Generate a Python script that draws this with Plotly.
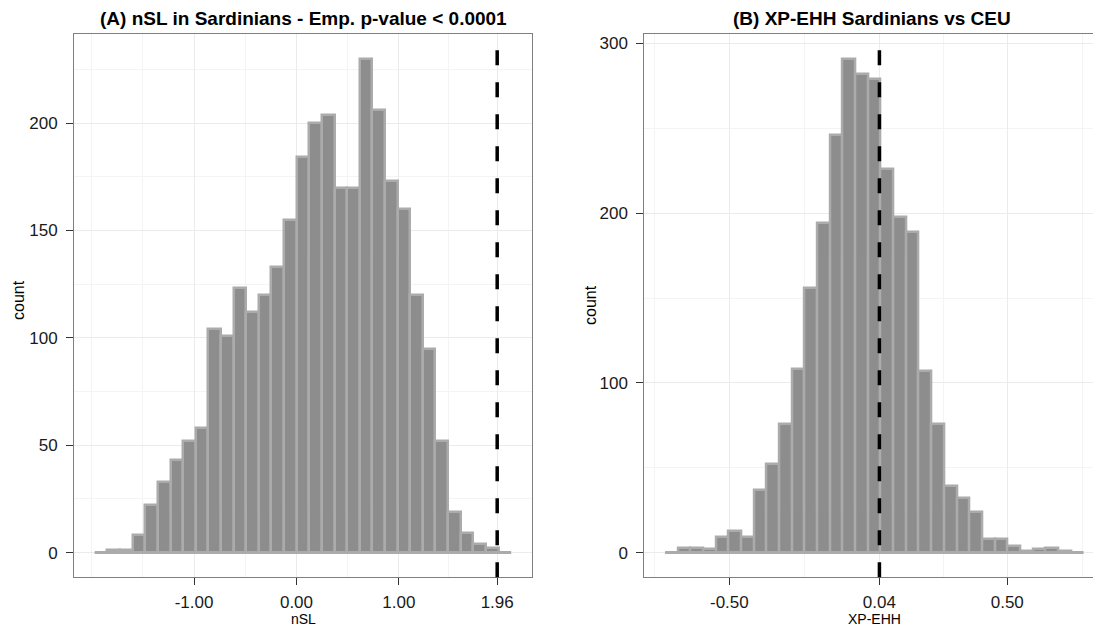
import numpy as np
import plotly.graph_objects as go

# ---- Panel A: nSL in Sardinians ----
nsl_bin_start = -1.969
nsl_bin_width = 0.1232
nsl_counts = [0, 1, 1, 8, 22, 33, 43, 52, 58, 104, 101, 123, 112, 120, 133, 155,
              184, 200, 204, 170, 170, 230, 206, 173, 160, 120, 95, 52, 19, 9, 4, 2, 0]
nsl_threshold = 1.96
nsl_tick_vals = [-1.0, 0.0, 1.0, 1.96]
nsl_tick_text = ["-1.00", "0.00", "1.00", "1.96"]
count_ticks_a = [0, 50, 100, 150, 200]

# ---- Panel B: XP-EHH Sardinians vs CEU ----
xpehh_bin_start = -0.7308
xpehh_bin_width = 0.04562
xpehh_counts = [0, 3, 3, 2, 9, 13, 9, 37, 52, 76, 108, 156, 194, 246, 291, 282,
                279, 226, 198, 189, 107, 76, 39, 32, 24, 8, 8, 4, 1, 2, 3, 1, 0]
xpehh_threshold = 0.04
xpehh_tick_vals = [-0.5, 0.04, 0.5]
xpehh_tick_text = ["-0.50", "0.04", "0.50"]
count_ticks_b = [0, 100, 200, 300]

W, H = 1093, 627
FONT = "Liberation Sans, Arial, Helvetica, sans-serif"
FILL = "#8d8d8d"
EDGE = "#ababab"


def bins(start, width, counts):
    n = len(counts)
    edges = start + width * np.arange(n + 1)
    centers = (edges[:-1] + edges[1:]) / 2
    return edges, centers


def minor_breaks(major, lo, hi):
    # midpoints between major breaks, extended one step beyond each end
    b = list(major)
    step = b[1] - b[0]
    b = [b[0] - step] + b + [b[-1] + step]
    out = []
    for a, c in zip(b[:-1], b[1:]):
        out += [a, (a + c) / 2]
    out.append(b[-1])
    return [v for v in out if lo <= v <= hi and all(abs(v - m) > 1e-9 for m in major)]


def expand(lo, hi, frac=0.05):
    d = (hi - lo) * frac
    return [lo - d, hi + d]


fig = go.Figure()

panels = [
    dict(start=nsl_bin_start, width=nsl_bin_width, counts=nsl_counts, thr=nsl_threshold,
         xa="x", ya="y"),
    dict(start=xpehh_bin_start, width=xpehh_bin_width, counts=xpehh_counts, thr=xpehh_threshold,
         xa="x2", ya="y2"),
]

for p in panels:
    edges, centers = bins(p["start"], p["width"], p["counts"])
    # baseline outline of the empty/low bins
    fig.add_trace(go.Scatter(x=[edges[0], edges[-1]], y=[0, 0], mode="lines",
                             line=dict(color=EDGE, width=3), hoverinfo="skip",
                             showlegend=False, xaxis=p["xa"], yaxis=p["ya"]))
    fig.add_trace(go.Bar(x=centers, y=p["counts"], width=p["width"],
                         marker=dict(color=FILL, line=dict(color=EDGE, width=2.5)),
                         showlegend=False, xaxis=p["xa"], yaxis=p["ya"]))
    fig.add_shape(type="line", xref=p["xa"], yref=p["ya"] + " domain",
                  x0=p["thr"], x1=p["thr"], y0=0, y1=1,
                  line=dict(color="black", width=3.5, dash="15px,17px"))

# x ranges follow the data (bins + threshold) with a 5% pad
e_a, _ = bins(nsl_bin_start, nsl_bin_width, nsl_counts)
e_b, _ = bins(xpehh_bin_start, xpehh_bin_width, xpehh_counts)
xr_a = expand(min(e_a[0], nsl_threshold), max(e_a[-1], nsl_threshold))
xr_b = expand(min(e_b[0], xpehh_threshold), max(e_b[-1], xpehh_threshold))
yr_a = expand(0, max(nsl_counts))
yr_b = expand(0, max(xpehh_counts))

# panel B runs past the right edge of the canvas
x2_left = 644.3 / W
xr_b_vis = [xr_b[0], xr_b[0] + (xr_b[1] - xr_b[0]) * (W - 644.3) / (1104.5 - 644.3)]

ydom = [1 - 577.3 / H, 1 - 34 / H]

axis_common = dict(
    showline=True, mirror=True, linecolor="#7f7f7f", linewidth=1,
    ticks="outside", ticklen=7, tickwidth=1.2, tickcolor="#333333",
    showgrid=True, gridcolor="#ebebeb", gridwidth=1.2, zeroline=False,
    tickfont=dict(family=FONT, size=17, color="#1a1a1a"),
)

fig.update_layout(
    width=W, height=H, margin=dict(l=0, r=0, t=0, b=0),
    paper_bgcolor="white", plot_bgcolor="white", bargap=0,
    xaxis=dict(domain=[74 / W, 532 / W], range=xr_a, tickvals=nsl_tick_vals,
               ticktext=nsl_tick_text, anchor="y", ticklabelstandoff=2,
               minor=dict(tickvals=minor_breaks(nsl_tick_vals, *xr_a), showgrid=True,
                          gridcolor="#f4f4f4", gridwidth=1, ticks=""),
               **axis_common),
    yaxis=dict(domain=ydom, range=yr_a, tickvals=count_ticks_a, anchor="x",
               ticklabelstandoff=5,
               minor=dict(tickvals=minor_breaks(count_ticks_a, *yr_a), showgrid=True,
                          gridcolor="#f4f4f4", gridwidth=1, ticks=""),
               **axis_common),
    xaxis2=dict(domain=[x2_left, 1.0], range=xr_b_vis, tickvals=xpehh_tick_vals,
                ticktext=xpehh_tick_text, anchor="y2", ticklabelstandoff=2,
                minor=dict(tickvals=minor_breaks(xpehh_tick_vals, *xr_b), showgrid=True,
                           gridcolor="#f4f4f4", gridwidth=1, ticks=""),
                **axis_common),
    yaxis2=dict(domain=ydom, range=yr_b, tickvals=count_ticks_b, anchor="x2",
                ticklabelstandoff=5,
                minor=dict(tickvals=minor_breaks(count_ticks_b, *yr_b), showgrid=True,
                           gridcolor="#f4f4f4", gridwidth=1, ticks=""),
                **axis_common),
)

title_font = dict(family=FONT, size=19, color="black")
label_font = dict(family=FONT, size=16, color="black")
xlabel_font = dict(family=FONT, size=14, color="black")
ann = [
    dict(text="<b>(A) nSL in Sardinians - Emp. p-value < 0.0001</b>", x=303 / W, y=1 - 18 / H,
         font=title_font),
    dict(text="<b>(B) XP-EHH Sardinians vs CEU</b>", x=872 / W, y=1 - 18 / H, font=title_font),
    dict(text="nSL", x=303 / W, y=1 - 618.5 / H, font=xlabel_font),
    dict(text="XP-EHH", x=874 / W, y=1 - 618.5 / H, font=xlabel_font),
    dict(text="count", x=18 / W, y=1 - 300 / H, font=label_font, textangle=-90),
    dict(text="count", x=590 / W, y=1 - 305 / H, font=label_font, textangle=-90),
]
for a in ann:
    fig.add_annotation(xref="paper", yref="paper", showarrow=False,
                       xanchor="center", yanchor="middle", **a)

fig.write_html("out.html")
